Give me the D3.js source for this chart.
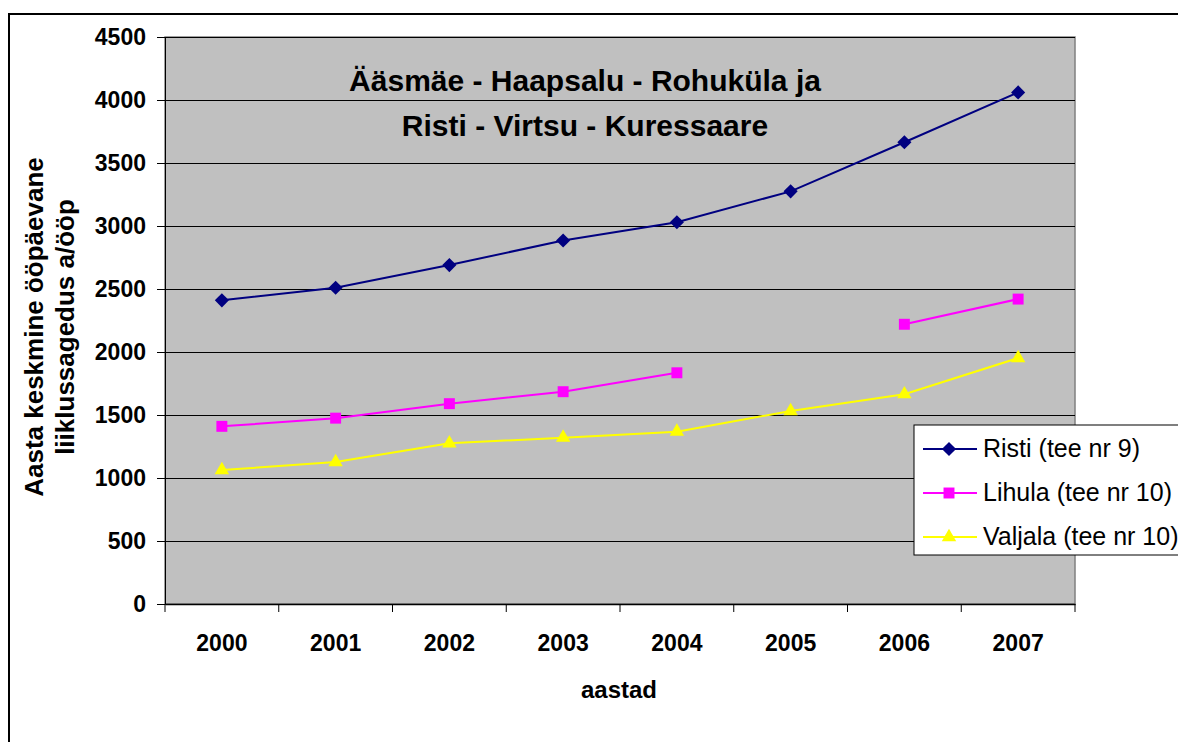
<!DOCTYPE html>
<html>
<head>
<meta charset="utf-8">
<script src="https://cdn.jsdelivr.net/npm/d3@7"></script>
<style>
  body { margin: 0; background: #fff; }
  text { font-family: Arial, "Liberation Sans", sans-serif; }
</style>
</head>
<body>
<div id="chart"></div>
<script>
var years = ['2000', '2001', '2002', '2003', '2004', '2005', '2006', '2007'];
var risti = [2410, 2510, 2690, 2885, 3030, 3275, 3665, 4060];
var lihula = [1410, 1475, 1590, 1685, 1835, null, 2220, 2420];
var valjala = [1063, 1127, 1275, 1320, 1368, 1532, 1665, 1952];
var yTicks = [0, 500, 1000, 1500, 2000, 2500, 3000, 3500, 4000, 4500];
var seriesNames = ['Risti (tee nr 9)', 'Lihula (tee nr 10)', 'Valjala (tee nr 10)'];
var titleLines = ['Ääsmäe - Haapsalu - Rohuküla ja', 'Risti - Virtsu - Kuressaare'];
var yLabelLines = ['Aasta keskmine ööpäevane', 'liiklussagedus a/ööp'];

var W = 1178, H = 742;
var margin = {top: 37, right: 103, bottom: 138, left: 165};
var width = W - margin.left - margin.right,
    height = H - margin.top - margin.bottom;

var svg = d3.select('#chart').append('svg')
    .attr('width', W)
    .attr('height', H);

// outer chart border
svg.append('rect')
    .attr('x', 9).attr('y', 14)
    .attr('width', W + 20).attr('height', H + 20)
    .attr('fill', '#fff')
    .attr('stroke', '#000')
    .attr('stroke-width', 2);

var g = svg.append('g')
    .attr('transform', `translate(${margin.left}, ${margin.top})`);

var xScale = d3.scaleBand()
    .domain(years)
    .range([0, width]);

var yScale = d3.scaleLinear()
    .domain([0, 4500])
    .range([height, 0]);

// plot background
g.append('rect')
    .attr('width', width)
    .attr('height', height)
    .attr('fill', '#c0c0c0')
    .attr('stroke', '#808080')
    .attr('stroke-width', 1.5);

// gridlines
g.selectAll('.grid')
    .data(yTicks.slice(1))
    .enter().append('line')
    .attr('x1', 0).attr('x2', width)
    .attr('y1', d => Math.round(yScale(d)) + 0.5)
    .attr('y2', d => Math.round(yScale(d)) + 0.5)
    .attr('stroke', '#000')
    .attr('stroke-width', 1);

// y axis
var yAxis = d3.axisLeft(yScale)
    .tickValues(yTicks)
    .tickFormat(d3.format('d'))
    .tickSize(8)
    .tickPadding(11);

g.append('g')
    .call(yAxis)
    .call(s => s.select('.domain').attr('stroke', '#000'))
    .call(s => s.selectAll('text')
        .style('font-size', '23px')
        .style('font-weight', 'bold')
        .attr('fill', '#000'));

// x axis
var xAxis = d3.axisBottom(xScale)
    .tickSize(0)
    .tickPadding(31);

g.append('g')
    .attr('transform', `translate(0, ${height})`)
    .call(xAxis)
    .call(s => s.select('.domain').attr('stroke', '#000').attr('stroke-width', 1.5))
    .call(s => s.selectAll('text')
        .style('font-size', '23px')
        .style('font-weight', 'bold')
        .attr('fill', '#000'));

// x ticks between categories
var bounds = years.map(d => xScale(d)).concat([width]);
g.selectAll('.xtick')
    .data(bounds)
    .enter().append('line')
    .attr('x1', d => d).attr('x2', d => d)
    .attr('y1', height).attr('y2', height + 8)
    .attr('stroke', '#000');

var cx = d => xScale(d) + xScale.bandwidth() / 2;

var line = d3.line()
    .defined(d => d[1] != null)
    .x(d => cx(d[0]))
    .y(d => yScale(d[1]));

var series = [
    {name: seriesNames[0], values: risti, color: '#000080', symbol: d3.symbolSquare, size: 100, rot: 45},
    {name: seriesNames[1], values: lihula, color: '#ff00ff', symbol: d3.symbolSquare, size: 120, rot: 0},
    {name: seriesNames[2], values: valjala, color: '#ffff00', symbol: d3.symbolTriangle, size: 90, rot: 0}
];

series.forEach(s => {
    var data = years.map((y, i) => [y, s.values[i]]);
    g.append('path')
        .datum(data)
        .attr('d', line)
        .attr('fill', 'none')
        .attr('stroke', s.color)
        .attr('stroke-width', 2);

    g.selectAll(null)
        .data(data.filter(d => d[1] != null))
        .enter().append('path')
        .attr('d', d3.symbol().type(s.symbol).size(s.size))
        .attr('transform', d => `translate(${cx(d[0])}, ${yScale(d[1])}) rotate(${s.rot})`)
        .attr('fill', s.color);
});

// title
svg.append('g').selectAll('text')
    .data(titleLines)
    .enter().append('text')
    .attr('x', 585)
    .attr('y', (d, i) => 91 + i * 45)
    .attr('text-anchor', 'middle')
    .style('font-size', '30px')
    .style('font-weight', 'bold')
    .text(d => d);

// y axis label
svg.append('g').selectAll('text')
    .data(yLabelLines)
    .enter().append('text')
    .attr('transform', (d, i) => `translate(${43 + i * 31}, 327) rotate(-90)`)
    .attr('text-anchor', 'middle')
    .style('font-size', '26px')
    .style('font-weight', 'bold')
    .text(d => d);

// x axis label
svg.append('text')
    .attr('x', 619)
    .attr('y', 698)
    .attr('text-anchor', 'middle')
    .style('font-size', '24px')
    .style('font-weight', 'bold')
    .text('aastad');

// legend
var legend = svg.append('g')
    .attr('transform', 'translate(914, 425)');

legend.append('rect')
    .attr('width', 290)
    .attr('height', 130)
    .attr('fill', '#fff')
    .attr('stroke', '#000')
    .attr('stroke-width', 1);

series.forEach((s, i) => {
    var yy = 24 + i * 44;
    legend.append('line')
        .attr('x1', 9).attr('x2', 63)
        .attr('y1', yy).attr('y2', yy)
        .attr('stroke', s.color)
        .attr('stroke-width', 2);
    legend.append('path')
        .attr('d', d3.symbol().type(s.symbol).size(s.size))
        .attr('transform', `translate(35, ${yy}) rotate(${s.rot})`)
        .attr('fill', s.color);
    legend.append('text')
        .attr('x', 69)
        .attr('y', yy + 8)
        .style('font-size', '25px')
        .text(s.name);
});
</script>
</body>
</html>
